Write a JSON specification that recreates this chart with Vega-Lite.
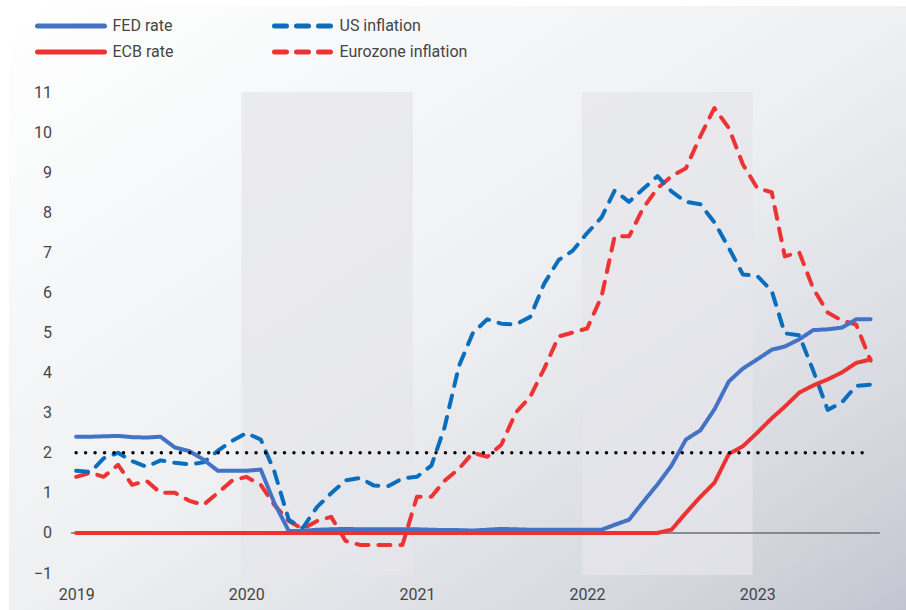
{
  "$schema": "https://vega.github.io/schema/vega-lite/v6.json",
  "width": 897,
  "height": 604,
  "autosize": {"type": "none"},
  "padding": {"left": 9, "top": 6, "right": 0, "bottom": 0},
  "background": "#ffffff",
  "config": {
    "view": {
      "stroke": null,
      "fill": {
        "gradient": "linear", "x1": 0, "y1": 0, "x2": 1, "y2": 1,
        "stops": [
          {"offset": 0, "color": "#ffffff"},
          {"offset": 0.5, "color": "#eef0f2"},
          {"offset": 0.8, "color": "#d9dbe2"},
          {"offset": 0.9, "color": "#cfd1d9"},
          {"offset": 1, "color": "#c2c5d0"}
        ]
      }
    },
    "font": "Roboto",
    "axis": {
      "labelFont": "Roboto", "labelFontSize": 16, "labelColor": "#454545",
      "domain": false, "ticks": false, "tickSize": 0, "grid": false, "title": null
    },
    "legend": {
      "orient": "none", "legendX": 26, "legendY": 10, "columns": 2,
      "columnPadding": 88, "rowPadding": 6, "symbolSize": 4489,
      "symbolStrokeWidth": 5, "labelFont": "Roboto", "labelFontSize": 16,
      "labelColor": "#454545", "labelOffset": 5.5, "clipHeight": 20, "padding": 0
    }
  },
  "layer": [
    {
      "data": {"values": [
        {"start": "2019-12-22", "end": "2020-12-23"},
        {"start": "2021-12-21", "end": "2022-12-22"}
      ]},
      "mark": {"type": "rect", "fill": "#e6e6eb", "opacity": 0.75},
      "encoding": {
        "x": {
          "field": "start", "type": "temporal",
          "scale": {"type": "utc", "domain": [
            {"year": 2018, "month": 8, "date": 10, "utc": true},
            {"year": 2023, "month": 11, "date": 16, "utc": true}
          ]},
          "axis": {
            "values": [
              {"year": 2019, "month": 1, "date": 1, "utc": true},
              {"year": 2020, "month": 1, "date": 1, "utc": true},
              {"year": 2021, "month": 1, "date": 1, "utc": true},
              {"year": 2022, "month": 1, "date": 1, "utc": true},
              {"year": 2023, "month": 1, "date": 1, "utc": true}
            ],
            "format": "%Y", "labelPadding": 1, "offset": -25,
            "labelFlush": false, "labelOverlap": false
          }
        },
        "x2": {"field": "end"},
        "y": {
          "datum": -1.05, "type": "quantitative",
          "scale": {"domain": [-1.923, 13.146], "nice": false, "zero": false},
          "axis": {
            "values": [-1, 0, 1, 2, 3, 4, 5, 6, 7, 8, 9, 10, 11],
            "offset": -42.5, "labelPadding": 0
          }
        },
        "y2": {"datum": 11}
      }
    },
    {
      "data": {"values": [{}]},
      "mark": {"type": "rule", "color": "#6e6e6e", "strokeWidth": 1.5},
      "encoding": {
        "x": {"datum": {"year": 2018, "month": 12, "date": 21, "utc": true}},
        "x2": {"datum": {"year": 2023, "month": 9, "date": 21, "utc": true}},
        "y": {"datum": 0}
      }
    },
    {
      "data": {"values": [
        {"date": "2019-01-01", "FED rate": 2.40, "US inflation": 1.55, "ECB rate": 0, "Eurozone inflation": 1.4},
        {"date": "2019-02-01", "FED rate": 2.40, "US inflation": 1.52, "ECB rate": 0, "Eurozone inflation": 1.5},
        {"date": "2019-03-01", "FED rate": 2.41, "US inflation": 1.86, "ECB rate": 0, "Eurozone inflation": 1.4},
        {"date": "2019-04-01", "FED rate": 2.42, "US inflation": 2.00, "ECB rate": 0, "Eurozone inflation": 1.7},
        {"date": "2019-05-01", "FED rate": 2.39, "US inflation": 1.79, "ECB rate": 0, "Eurozone inflation": 1.2},
        {"date": "2019-06-01", "FED rate": 2.38, "US inflation": 1.65, "ECB rate": 0, "Eurozone inflation": 1.3},
        {"date": "2019-07-01", "FED rate": 2.40, "US inflation": 1.81, "ECB rate": 0, "Eurozone inflation": 1.0},
        {"date": "2019-08-01", "FED rate": 2.13, "US inflation": 1.75, "ECB rate": 0, "Eurozone inflation": 1.0},
        {"date": "2019-09-01", "FED rate": 2.04, "US inflation": 1.71, "ECB rate": 0, "Eurozone inflation": 0.8},
        {"date": "2019-10-01", "FED rate": 1.83, "US inflation": 1.76, "ECB rate": 0, "Eurozone inflation": 0.7},
        {"date": "2019-11-01", "FED rate": 1.55, "US inflation": 2.05, "ECB rate": 0, "Eurozone inflation": 1.0},
        {"date": "2019-12-01", "FED rate": 1.55, "US inflation": 2.29, "ECB rate": 0, "Eurozone inflation": 1.3},
        {"date": "2020-01-01", "FED rate": 1.55, "US inflation": 2.49, "ECB rate": 0, "Eurozone inflation": 1.4},
        {"date": "2020-02-01", "FED rate": 1.58, "US inflation": 2.33, "ECB rate": 0, "Eurozone inflation": 1.2},
        {"date": "2020-03-01", "FED rate": 0.75, "US inflation": 1.54, "ECB rate": 0, "Eurozone inflation": 0.7},
        {"date": "2020-04-01", "FED rate": 0.05, "US inflation": 0.33, "ECB rate": 0, "Eurozone inflation": 0.3},
        {"date": "2020-05-01", "FED rate": 0.05, "US inflation": 0.12, "ECB rate": 0, "Eurozone inflation": 0.1},
        {"date": "2020-06-01", "FED rate": 0.08, "US inflation": 0.65, "ECB rate": 0, "Eurozone inflation": 0.3},
        {"date": "2020-07-01", "FED rate": 0.09, "US inflation": 0.99, "ECB rate": 0, "Eurozone inflation": 0.4},
        {"date": "2020-08-01", "FED rate": 0.10, "US inflation": 1.31, "ECB rate": 0, "Eurozone inflation": -0.2},
        {"date": "2020-09-01", "FED rate": 0.09, "US inflation": 1.37, "ECB rate": 0, "Eurozone inflation": -0.3},
        {"date": "2020-10-01", "FED rate": 0.09, "US inflation": 1.18, "ECB rate": 0, "Eurozone inflation": -0.3},
        {"date": "2020-11-01", "FED rate": 0.09, "US inflation": 1.17, "ECB rate": 0, "Eurozone inflation": -0.3},
        {"date": "2020-12-01", "FED rate": 0.09, "US inflation": 1.36, "ECB rate": 0, "Eurozone inflation": -0.3},
        {"date": "2021-01-01", "FED rate": 0.09, "US inflation": 1.40, "ECB rate": 0, "Eurozone inflation": 0.9},
        {"date": "2021-02-01", "FED rate": 0.08, "US inflation": 1.68, "ECB rate": 0, "Eurozone inflation": 0.9},
        {"date": "2021-03-01", "FED rate": 0.07, "US inflation": 2.62, "ECB rate": 0, "Eurozone inflation": 1.3},
        {"date": "2021-04-01", "FED rate": 0.07, "US inflation": 4.16, "ECB rate": 0, "Eurozone inflation": 1.6},
        {"date": "2021-05-01", "FED rate": 0.06, "US inflation": 4.99, "ECB rate": 0, "Eurozone inflation": 2.0},
        {"date": "2021-06-01", "FED rate": 0.08, "US inflation": 5.33, "ECB rate": 0, "Eurozone inflation": 1.9},
        {"date": "2021-07-01", "FED rate": 0.10, "US inflation": 5.22, "ECB rate": 0, "Eurozone inflation": 2.2},
        {"date": "2021-08-01", "FED rate": 0.09, "US inflation": 5.20, "ECB rate": 0, "Eurozone inflation": 3.0},
        {"date": "2021-09-01", "FED rate": 0.08, "US inflation": 5.39, "ECB rate": 0, "Eurozone inflation": 3.4},
        {"date": "2021-10-01", "FED rate": 0.08, "US inflation": 6.22, "ECB rate": 0, "Eurozone inflation": 4.1},
        {"date": "2021-11-01", "FED rate": 0.08, "US inflation": 6.81, "ECB rate": 0, "Eurozone inflation": 4.9},
        {"date": "2021-12-01", "FED rate": 0.08, "US inflation": 7.04, "ECB rate": 0, "Eurozone inflation": 5.0},
        {"date": "2022-01-01", "FED rate": 0.08, "US inflation": 7.48, "ECB rate": 0, "Eurozone inflation": 5.1},
        {"date": "2022-02-01", "FED rate": 0.08, "US inflation": 7.87, "ECB rate": 0, "Eurozone inflation": 5.9},
        {"date": "2022-03-01", "FED rate": 0.20, "US inflation": 8.54, "ECB rate": 0, "Eurozone inflation": 7.4},
        {"date": "2022-04-01", "FED rate": 0.33, "US inflation": 8.26, "ECB rate": 0, "Eurozone inflation": 7.4},
        {"date": "2022-05-01", "FED rate": 0.77, "US inflation": 8.58, "ECB rate": 0, "Eurozone inflation": 8.1},
        {"date": "2022-06-01", "FED rate": 1.21, "US inflation": 8.90, "ECB rate": 0, "Eurozone inflation": 8.6},
        {"date": "2022-07-01", "FED rate": 1.68, "US inflation": 8.52, "ECB rate": 0.08, "Eurozone inflation": 8.9},
        {"date": "2022-08-01", "FED rate": 2.33, "US inflation": 8.26, "ECB rate": 0.50, "Eurozone inflation": 9.1},
        {"date": "2022-09-01", "FED rate": 2.56, "US inflation": 8.20, "ECB rate": 0.90, "Eurozone inflation": 9.9},
        {"date": "2022-10-01", "FED rate": 3.08, "US inflation": 7.75, "ECB rate": 1.25, "Eurozone inflation": 10.6},
        {"date": "2022-11-01", "FED rate": 3.78, "US inflation": 7.11, "ECB rate": 1.97, "Eurozone inflation": 10.1},
        {"date": "2022-12-01", "FED rate": 4.10, "US inflation": 6.45, "ECB rate": 2.16, "Eurozone inflation": 9.2},
        {"date": "2023-01-01", "FED rate": 4.33, "US inflation": 6.41, "ECB rate": 2.50, "Eurozone inflation": 8.6},
        {"date": "2023-02-01", "FED rate": 4.57, "US inflation": 6.04, "ECB rate": 2.86, "Eurozone inflation": 8.5},
        {"date": "2023-03-01", "FED rate": 4.65, "US inflation": 4.98, "ECB rate": 3.15, "Eurozone inflation": 6.9},
        {"date": "2023-04-01", "FED rate": 4.83, "US inflation": 4.93, "ECB rate": 3.50, "Eurozone inflation": 7.0},
        {"date": "2023-05-01", "FED rate": 5.06, "US inflation": 4.05, "ECB rate": 3.68, "Eurozone inflation": 6.1},
        {"date": "2023-06-01", "FED rate": 5.08, "US inflation": 3.07, "ECB rate": 3.83, "Eurozone inflation": 5.5},
        {"date": "2023-07-01", "FED rate": 5.12, "US inflation": 3.25, "ECB rate": 4.00, "Eurozone inflation": 5.3},
        {"date": "2023-08-01", "FED rate": 5.33, "US inflation": 3.67, "ECB rate": 4.24, "Eurozone inflation": 5.2},
        {"date": "2023-09-01", "FED rate": 5.33, "US inflation": 3.70, "ECB rate": 4.33, "Eurozone inflation": 4.3}
      ]},
      "transform": [
        {"fold": ["Eurozone inflation", "US inflation", "FED rate", "ECB rate"], "as": ["series", "value"]}
      ],
      "mark": {"type": "line", "strokeWidth": 4, "strokeCap": "round", "strokeJoin": "round"},
      "encoding": {
        "x": {"field": "date", "type": "temporal"},
        "y": {"field": "value", "type": "quantitative"},
        "color": {
          "field": "series", "type": "nominal",
          "scale": {
            "domain": ["FED rate", "ECB rate", "US inflation", "Eurozone inflation"],
            "range": ["#4472C4", "#EE3131", "#0A6EBD", "#EE3333"]
          },
          "legend": {"title": null, "encode": {"symbols": {"update": {"strokeCap": {"value": "round"}, "strokeDashOffset": {"value": 12}}}}}
        },
        "strokeDash": {
          "field": "series", "type": "nominal",
          "scale": {
            "domain": ["FED rate", "ECB rate", "US inflation", "Eurozone inflation"],
            "range": [[1, 0], [1, 0], [12, 10], [12, 10]]
          },
          "legend": {"title": null, "encode": {"symbols": {"update": {"strokeCap": {"value": "round"}, "strokeDashOffset": {"value": 12}}}}}
        }
      }
    },
    {
      "data": {"values": [{}]},
      "mark": {"type": "rule", "color": "#000000", "strokeWidth": 3.5, "strokeDash": [0, 9.47], "strokeCap": "round"},
      "encoding": {
        "x": {"datum": {"year": 2019, "month": 1, "date": 1, "utc": true}},
        "x2": {"datum": {"year": 2023, "month": 9, "date": 1, "utc": true}},
        "y": {"datum": 2}
      }
    }
  ]
}
